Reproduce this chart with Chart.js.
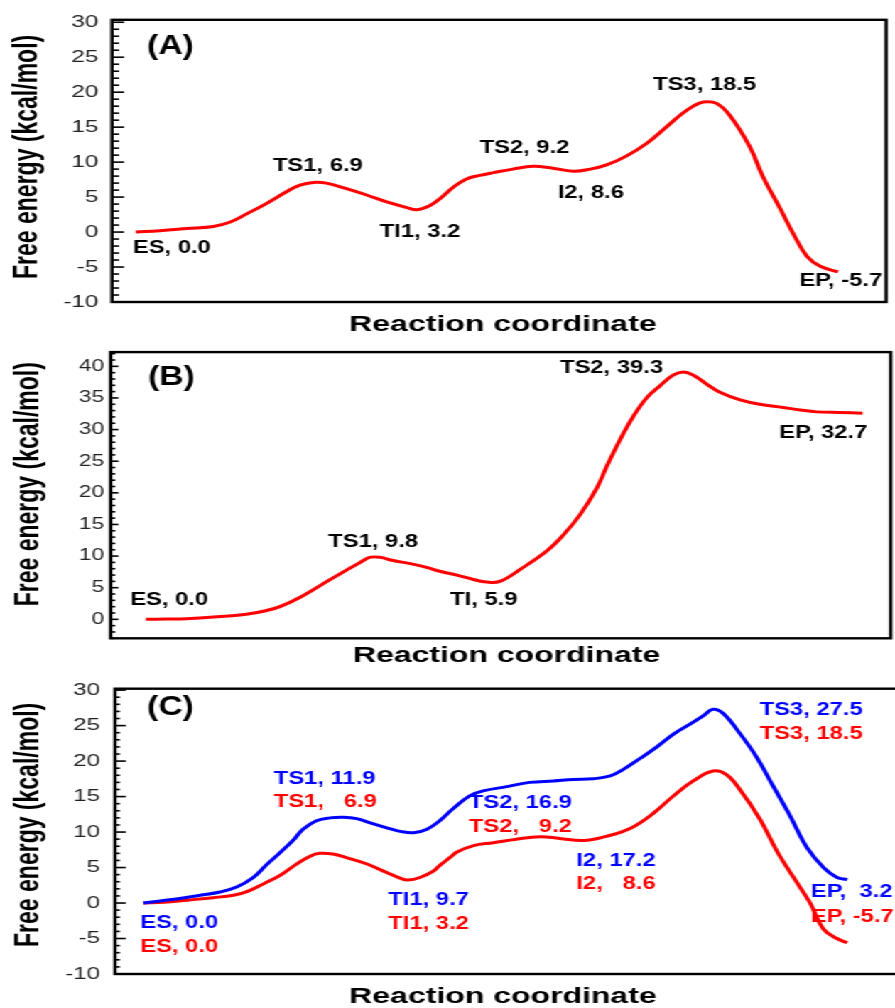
<!DOCTYPE html>
<html>
<head>
<meta charset="utf-8">
<script src="https://cdn.jsdelivr.net/npm/chart.js@4.4.1/dist/chart.umd.min.js"></script>
<style>
  html, body { margin: 0; padding: 0; background: #fff; overflow: hidden; width: 895px; height: 1008px; }
  /* the figure is drawn narrow and widened, like the original picture */
  #stage { position: absolute; left: 0; top: 0; width: 640px; height: 1008px; transform: scaleX(1.42063); transform-origin: 0 0; }
  #stage canvas { position: absolute; left: 0; }
</style>
</head>
<body>
<div id="stage">
  <canvas id="panelA" width="630" height="338" style="top:0px"></canvas>
  <canvas id="panelB" width="630" height="330" style="top:338px"></canvas>
  <canvas id="panelC" width="640" height="340" style="top:668px"></canvas>
</div>
<script>
const FONT = '"Liberation Sans", Arial, Helvetica, sans-serif';

/* =========================
   DATA
=========================*/
// (A)
const xA = [3.1, 6.2, 9.7, 13.1, 15.2, 17.4, 20.0, 22.6, 24.3, 26.0, 27.7, 30.3, 32.9, 35.5, 38.1, 39.4, 41.1, 42.4, 44.1, 45.8, 47.5, 49.3, 51.8, 54.4, 56.6, 59.6, 61.8, 63.9, 66.5, 69.1, 71.7, 73.4, 75.1, 76.4, 78.1, 79.8, 82.4, 84.1, 86.3, 88.0, 89.8, 91.5, 93.8];
const energyA = [0.0, 0.2, 0.5, 0.8, 1.4, 2.6, 4.1, 5.8, 6.7, 7.1, 7.0, 6.2, 5.3, 4.3, 3.5, 3.2, 3.8, 4.8, 6.4, 7.6, 8.1, 8.5, 9.0, 9.4, 9.2, 8.7, 9.0, 9.6, 10.9, 12.7, 15.1, 16.7, 18.0, 18.6, 18.4, 16.7, 12.2, 7.9, 3.4, -0.2, -3.5, -4.9, -5.7];
const yTicksA = [-10, -5, 0, 5, 10, 15, 20, 25, 30];
const labelsA = [
  { text: "ES, 0.0", x: 2.7, y: -2.3 },
  { text: "TS1, 6.9", x: 20.8, y: 9.5 },
  { text: "TI1, 3.2", x: 34.6, y: 0.0 },
  { text: "TS2, 9.2", x: 47.5, y: 12.0 },
  { text: "I2, 8.6", x: 57.6, y: 5.55 },
  { text: "TS3, 18.5", x: 69.9, y: 21.1 },
  { text: "EP, -5.7", x: 88.8, y: -7.0 },
];

// (B)
const xB = [4.5, 7.2, 9.7, 13.2, 17.4, 20.0, 21.7, 24.3, 26.8, 29.4, 32.0, 33.2, 34.5, 36.2, 38.4, 40.5, 42.2, 44.4, 46.5, 48.2, 49.9, 52.5, 55.9, 58.0, 60.2, 62.3, 63.6, 65.3, 67.0, 68.7, 70.4, 72.1, 73.4, 74.7, 76.4, 78.1, 80.7, 83.2, 86.2, 88.4, 90.5, 93.5, 96.4];
const energyB = [0.0, 0.05, 0.1, 0.35, 0.8, 1.4, 2.0, 3.5, 5.3, 7.2, 9.0, 9.8, 9.8, 9.3, 8.8, 8.2, 7.6, 7.0, 6.3, 5.9, 6.0, 7.9, 10.8, 13.3, 16.6, 20.7, 24.2, 28.4, 32.1, 35.0, 36.9, 38.6, 39.1, 38.6, 37.2, 35.9, 34.7, 34.0, 33.5, 33.1, 32.8, 32.7, 32.6];
const yTicksB = [0, 5, 10, 15, 20, 25, 30, 35, 40];
const labelsB = [
  { text: "ES, 0.0", x: 2.5, y: 3.1 },
  { text: "TS1, 9.8", x: 27.9, y: 12.3 },
  { text: "TI, 5.9", x: 43.5, y: 3.1 },
  { text: "TS2, 39.3", x: 57.6, y: 39.8 },
  { text: "EP, 32.7", x: 85.7, y: 29.5 },
];

// (C) blue = second profile, red = profile of (A)
const xCBlue = [3.6, 5.7, 8.2, 10.8, 13.3, 15.4, 17.5, 19.2, 20.9, 22.6, 23.8, 25.5, 27.2, 28.9, 30.6, 32.3, 34.4, 36.1, 37.8, 39.5, 41.1, 42.8, 44.9, 46.6, 49.6, 52.5, 55.5, 58.0, 60.5, 62.7, 64.3, 66.5, 68.6, 70.7, 72.8, 74.5, 75.7, 77.0, 79.1, 81.2, 83.3, 85.4, 87.6, 89.7, 91.4, 92.7];
const energyCBlue = [0.0, 0.3, 0.65, 1.1, 1.55, 2.25, 3.6, 5.4, 7.1, 8.9, 10.4, 11.6, 12.0, 12.1, 11.9, 11.3, 10.6, 10.1, 9.9, 10.4, 11.6, 13.3, 15.1, 15.8, 16.4, 17.0, 17.2, 17.4, 17.5, 17.9, 18.8, 20.4, 22.0, 23.8, 25.2, 26.4, 27.3, 26.7, 23.9, 20.6, 16.5, 12.4, 7.8, 5.0, 3.6, 3.3];
const xCRed = [3.6, 6.2, 9.1, 12.4, 15.0, 16.7, 18.8, 20.9, 23.0, 24.7, 25.9, 27.6, 29.3, 31.9, 34.4, 36.1, 37.1, 38.6, 40.3, 41.1, 42.4, 43.3, 45.4, 47.9, 50.8, 53.8, 56.3, 59.3, 62.2, 65.2, 68.1, 70.7, 73.2, 75.7, 77.4, 79.1, 81.6, 83.8, 85.9, 88.0, 89.7, 91.4, 92.7];
const energyCRed = [0.0, 0.1, 0.4, 0.75, 1.1, 1.6, 2.7, 3.9, 5.5, 6.6, 7.0, 6.9, 6.4, 5.5, 4.3, 3.5, 3.25, 3.6, 4.5, 5.3, 6.4, 7.2, 8.1, 8.5, 9.0, 9.35, 9.1, 8.8, 9.4, 10.5, 12.6, 15.1, 17.2, 18.6, 18.1, 16.0, 11.9, 7.3, 3.6, 0.0, -3.7, -5.0, -5.6];
const yTicksC = [-10, -5, 0, 5, 10, 15, 20, 25, 30];
const labelsCBlue = [
  { text: "ES, 0.0", x: 3.2, y: -2.8 },
  { text: "TS1, 11.9", x: 20.1, y: 17.5 },
  { text: "TI1, 9.7", x: 34.6, y: 0.45 },
  { text: "TS2, 16.9", x: 44.8, y: 14.05 },
  { text: "I2, 17.2", x: 58.4, y: 6.0 },
  { text: "TS3, 27.5", x: 81.6, y: 27.2 },
  { text: "EP,  3.2", x: 88.1, y: 1.55 },
];
const labelsCRed = [
  { text: "ES, 0.0", x: 3.2, y: -6.15 },
  { text: "TS1,   6.9", x: 20.1, y: 14.2 },
  { text: "TI1, 3.2", x: 34.6, y: -2.9 },
  { text: "TS2,   9.2", x: 44.8, y: 10.7 },
  { text: "I2,   8.6", x: 58.4, y: 2.65 },
  { text: "TS3, 18.5", x: 81.6, y: 23.8 },
  { text: "EP, -5.7", x: 88.1, y: -1.95 },
];

const RED = "#ff0000";
const BLUE = "#0000ff";

/* =========================
   FRAME, INNER TICKS, TEXT
=========================*/
function decor(p) {
  return {
    id: "decor",
    afterDraw(chart) {
      const { ctx, chartArea: a, scales: { x, y } } = chart;
      ctx.save();

      // box round the plot
      ctx.strokeStyle = "#000";
      ctx.lineWidth = 2.4;
      ctx.strokeRect(a.left, a.top, a.right - a.left, a.bottom - a.top);

      // ticks pointing inward, minor every 1
      ctx.lineWidth = 1.6;
      for (let v = Math.ceil(y.min); v <= y.max; v++) {
        const py = y.getPixelForValue(v);
        const len = v % 5 === 0 ? p.major : p.minor;
        ctx.beginPath();
        ctx.moveTo(a.left, py);
        ctx.lineTo(a.left + len, py);
        ctx.stroke();
      }

      // point labels (a bit taller than wide, as in the picture)
      ctx.textAlign = "left";
      ctx.textBaseline = "middle";
      ctx.font = `bold 18.4px ${FONT}`;
      p.labels.forEach((group) => {
        ctx.fillStyle = group.color;
        group.items.forEach((l) => {
          const px = x.getPixelForValue(l.x);
          const py = y.getPixelForValue(l.y);
          ctx.save();
          ctx.translate(px, py);
          ctx.scale(0.91, 1);
          ctx.fillText(l.text, 0, 0);
          ctx.restore();
        });
      });

      // panel letter
      ctx.fillStyle = "#000";
      ctx.save();
      ctx.translate(p.letterX, p.letterY);
      ctx.scale(0.88, 1);
      ctx.font = `bold 27px ${FONT}`;
      ctx.fillText(p.letter, 0, 0);
      ctx.restore();

      // axis titles
      ctx.textAlign = "center";
      ctx.font = `bold 22.5px ${FONT}`;
      ctx.fillText("Reaction coordinate", p.xTitleX, p.xTitleY);

      ctx.font = `bold 23px ${FONT}`;
      ctx.translate(p.yTitleX, (a.top + a.bottom) / 2 + p.yTitleShift);
      ctx.rotate(-Math.PI / 2);
      ctx.fillText("Free energy (kcal/mol)", 0, 0);

      ctx.restore();
    },
  };
}

function makePanel(id, p) {
  return new Chart(document.getElementById(id), {
    type: "line",
    data: {
      datasets: p.series.map((s) => ({
        data: s.x.map((x, i) => ({ x, y: s.y[i] })),
        borderColor: s.color,
        borderWidth: 3,
        pointRadius: 0,
        fill: false,
        tension: 0.4,
      })),
    },
    options: {
      responsive: false,
      animation: false,
      events: [],
      layout: { padding: { top: p.top, right: p.right, bottom: 0, left: 0 } },
      plugins: { legend: { display: false }, tooltip: { enabled: false } },
      scales: {
        x: {
          type: "linear",
          min: 0,
          max: 100,
          ticks: { display: false },
          grid: { display: false, drawTicks: false },
          border: { display: false },
          afterFit: (s) => { s.height = p.xAxisH; },
        },
        y: {
          min: p.yMin,
          max: p.yMax,
          afterBuildTicks: (s) => { s.ticks = p.yTicks.map((v) => ({ value: v })); },
          ticks: { font: { family: FONT, size: p.tickSize }, color: "#222", padding: p.tickPad },
          grid: { display: false, drawTicks: false },
          border: { display: false },
          afterFit: (s) => { s.width = p.left; },
        },
      },
    },
    plugins: [decor(p)],
  });
}

makePanel("panelA", {
  series: [{ x: xA, y: energyA, color: RED }],
  yTicks: yTicksA, yMin: -10, yMax: 30.35,
  top: 19, right: 6.3, left: 78.8, xAxisH: 36,
  tickSize: 17, tickPad: 9.6, major: 8.5, minor: 5,
  labels: [{ color: "#000", items: labelsA }],
  letter: "(A)", letterX: 103.5, letterY: 47,
  xTitleX: 354, xTitleY: 325, yTitleX: 19.7, yTitleShift: -4,
});

makePanel("panelB", {
  series: [{ x: xB, y: energyB, color: RED }],
  yTicks: yTicksB, yMin: -3, yMax: 42.25,
  top: 11, right: 3, left: 77.9, xAxisH: 29.7,
  tickSize: 16, tickPad: 4.5, major: 5.5, minor: 3.3,
  labels: [{ color: "#000", items: labelsB }],
  letter: "(B)", letterX: 104.2, letterY: 39.5,
  xTitleX: 356.7, xTitleY: 318, yTitleX: 21.1, yTitleShift: -11,
});

makePanel("panelC", {
  series: [
    { x: xCBlue, y: energyCBlue, color: BLUE },
    { x: xCRed, y: energyCRed, color: RED },
  ],
  yTicks: yTicksC, yMin: -10, yMax: 30.2,
  top: 16, right: 3, left: 80.95, xAxisH: 34,
  tickSize: 17, tickPad: 10.5, major: 7.7, minor: 3.5,
  labels: [{ color: BLUE, items: labelsCBlue }, { color: RED, items: labelsCRed }],
  letter: "(C)", letterX: 103.5, letterY: 40,
  xTitleX: 354, xTitleY: 328.5, yTitleX: 21.1, yTitleShift: -6.5,
});
</script>
</body>
</html>
